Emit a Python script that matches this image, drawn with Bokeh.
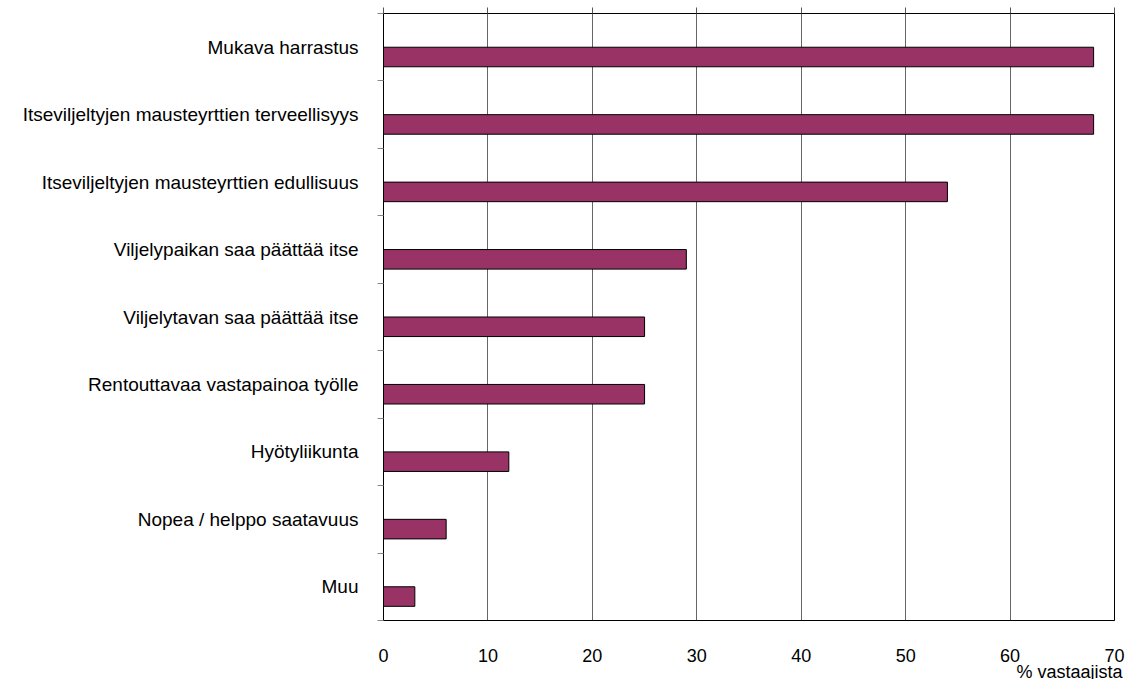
from bokeh.plotting import figure
from bokeh.models import Range1d, FixedTicker, LinearAxis, Title
from bokeh.embed import file_html
from bokeh.resources import INLINE

categories = [
    "Mukava harrastus",
    "Itseviljeltyjen mausteyrttien terveellisyys",
    "Itseviljeltyjen mausteyrttien edullisuus",
    "Viljelypaikan saa päättää itse",
    "Viljelytavan saa päättää itse",
    "Rentouttavaa vastapainoa työlle",
    "Hyötyliikunta",
    "Nopea / helppo saatavuus",
    "Muu",
]
values = [68, 68, 54, 29, 25, 25, 12, 6, 3]
x_ticks = [0, 10, 20, 30, 40, 50, 60, 70]
x_label = "% vastaajista"

n = len(categories)
FONT = "Liberation Sans"
BAR_COLOR = "#993366"

p = figure(width=1140, height=679, output_backend="svg", toolbar_location=None,
           x_range=Range1d(0, 70), y_range=Range1d(n, 0),
           min_border_left=383, min_border_right=26, min_border_top=13,
           min_border_bottom=59, x_axis_location="below", y_axis_location="left")
p.background_fill_color = "white"
p.border_fill_color = "white"
p.outline_line_color = "black"
p.outline_line_width = 1

centers = [i + 0.5 for i in range(n)]
bar_centers = [i + 0.645 for i in range(n)]
p.hbar(y=bar_centers, left=0, right=values, height=0.29,
       fill_color=BAR_COLOR, line_color="black", line_width=1)

# x axis
xa = p.xaxis[0]
xa.ticker = FixedTicker(ticks=x_ticks)
xa.major_tick_line_color = None
xa.minor_tick_line_color = None
xa.major_tick_out = 0
xa.major_tick_in = 0
xa.major_label_standoff = 28
xa.major_label_text_font = FONT
xa.major_label_text_font_size = "18px"
xa.major_label_text_color = "black"
xa.axis_line_color = "black"

# y axis
ya = p.yaxis[0]
ya.ticker = FixedTicker(ticks=centers, minor_ticks=list(range(n + 1)))
ya.major_label_overrides = {c: lab for c, lab in zip(centers, categories)}
ya.major_tick_line_color = None
ya.major_tick_out = 0
ya.major_tick_in = 0
ya.minor_tick_out = 6
ya.minor_tick_in = 0
ya.minor_tick_line_color = "#888888"
ya.major_label_standoff = 19
ya.major_label_text_font = FONT
ya.major_label_text_font_size = "19px"
ya.major_label_text_color = "black"
ya.axis_line_color = "black"

# top axis: gridline stubs above the frame
ta = LinearAxis(ticker=FixedTicker(ticks=x_ticks))
ta.major_label_text_color = None
ta.major_label_text_font_size = "1px"
ta.major_tick_out = 6
ta.major_tick_in = 0
ta.major_tick_line_color = "#555555"
ta.minor_tick_line_color = None
ta.axis_line_color = "black"
ta.major_label_standoff = 0
p.add_layout(ta, "above")

p.xgrid.ticker = FixedTicker(ticks=x_ticks)
p.xgrid.grid_line_color = "#666666"
p.xgrid.grid_line_width = 1
p.ygrid.grid_line_color = None

p.add_layout(Title(text=x_label, align="right", offset=-8, standoff=-10,
                   text_font=FONT, text_font_size="18px", text_font_style="normal",
                   text_color="black"), "below")

open("out.html", "w").write(file_html(p, INLINE))
